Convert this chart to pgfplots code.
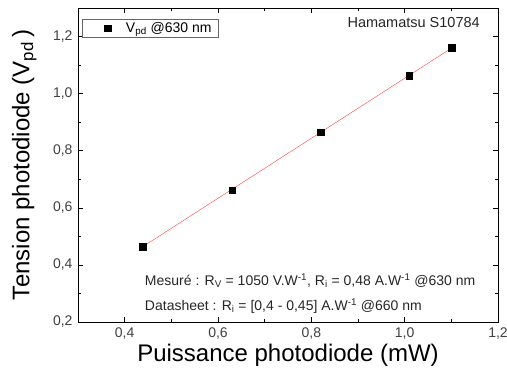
\documentclass[border=0pt]{standalone}
\usepackage{fontspec}
\setmainfont{Liberation Sans}
\usepackage{pgfplots}
\pgfplotsset{compat=1.18}

\begin{document}
\begin{tikzpicture}
\begin{axis}[
    scale only axis,
    width=420pt, height=314pt,
    xmin=0.3, xmax=1.2,
    ymin=0.2, ymax=1.3,
    xtick={0.4,0.6,0.8,1.0,1.2},
    ytick={0.2,0.4,0.6,0.8,1.0,1.2},
    minor xtick={0.3,0.5,0.7,0.9,1.1},
    minor ytick={0.3,0.5,0.7,0.9,1.1},
    tick align=inside,
    major tick length=5pt, minor tick length=3pt,
    tick style={black, semithick},
    axis line style={black, semithick},
    /pgf/number format/assume math mode=true,
    /pgf/number format/use comma,
    /pgf/number format/fixed,
    /pgf/number format/fixed zerofill,
    /pgf/number format/precision=1,
    ticklabel style={font=\fontsize{14}{16}\selectfont, color=black!75},
    xticklabel style={yshift=-2pt},
    yticklabel style={xshift=-2pt},
    xlabel={Puissance photodiode (mW)},
    ylabel={Tension photodiode (V\textsubscript{pd}\,)},
    label style={font=\fontsize{24}{28}\selectfont},
    xlabel style={at={(axis description cs:0.5,-0.105)}, anchor=center},
    ylabel style={at={(axis description cs:-0.128,0.5)}, anchor=center},
    legend style={at={(rel axis cs:0.01,0.965)}, anchor=north west, draw=black!60,
        font=\fontsize{14}{16}\selectfont, inner xsep=5pt, inner ysep=1pt,
        legend cell align=left},
    legend image code/.code={%
        \path (0cm,0cm) (0.85cm,0cm);
        \draw[#1] plot coordinates {(0.7cm,0cm)};},
]
\addplot[only marks, mark=square*, mark size=3.3pt, color=black]
    coordinates {(0.4386,0.4637) (0.6307,0.6623) (0.8207,0.8644) (1.0099,1.0628) (1.101,1.160)};
\addlegendentry{\hspace{12pt}V\textsubscript{pd} @630 nm}
\addplot[red!75, thin, forget plot]
    coordinates {(0.4386,0.4637) (1.101,1.160)};
\node[anchor=north east, font=\fontsize{14.5}{16}\selectfont, text=black!85]
    at (rel axis cs:0.965,0.98) {Hamamatsu S10784};
\node[anchor=base west, font=\fontsize{14}{16}\selectfont, text=black!85]
    at (axis cs:0.436,0.327) {Mesuré : R\textsubscript{V} = 1050 V.W\textsuperscript{-1}, R\textsubscript{i} = 0,48 A.W\textsuperscript{-1} @630 nm};
\node[anchor=base west, font=\fontsize{14}{16}\selectfont, text=black!85]
    at (axis cs:0.436,0.24) {Datasheet : R\textsubscript{i} = [0,4 - 0,45] A.W\textsuperscript{-1} @660 nm};
\end{axis}
\pgfresetboundingbox
\path[use as bounding box] (-78pt,-58pt) rectangle (429pt,322pt);
\end{tikzpicture}
\end{document}
